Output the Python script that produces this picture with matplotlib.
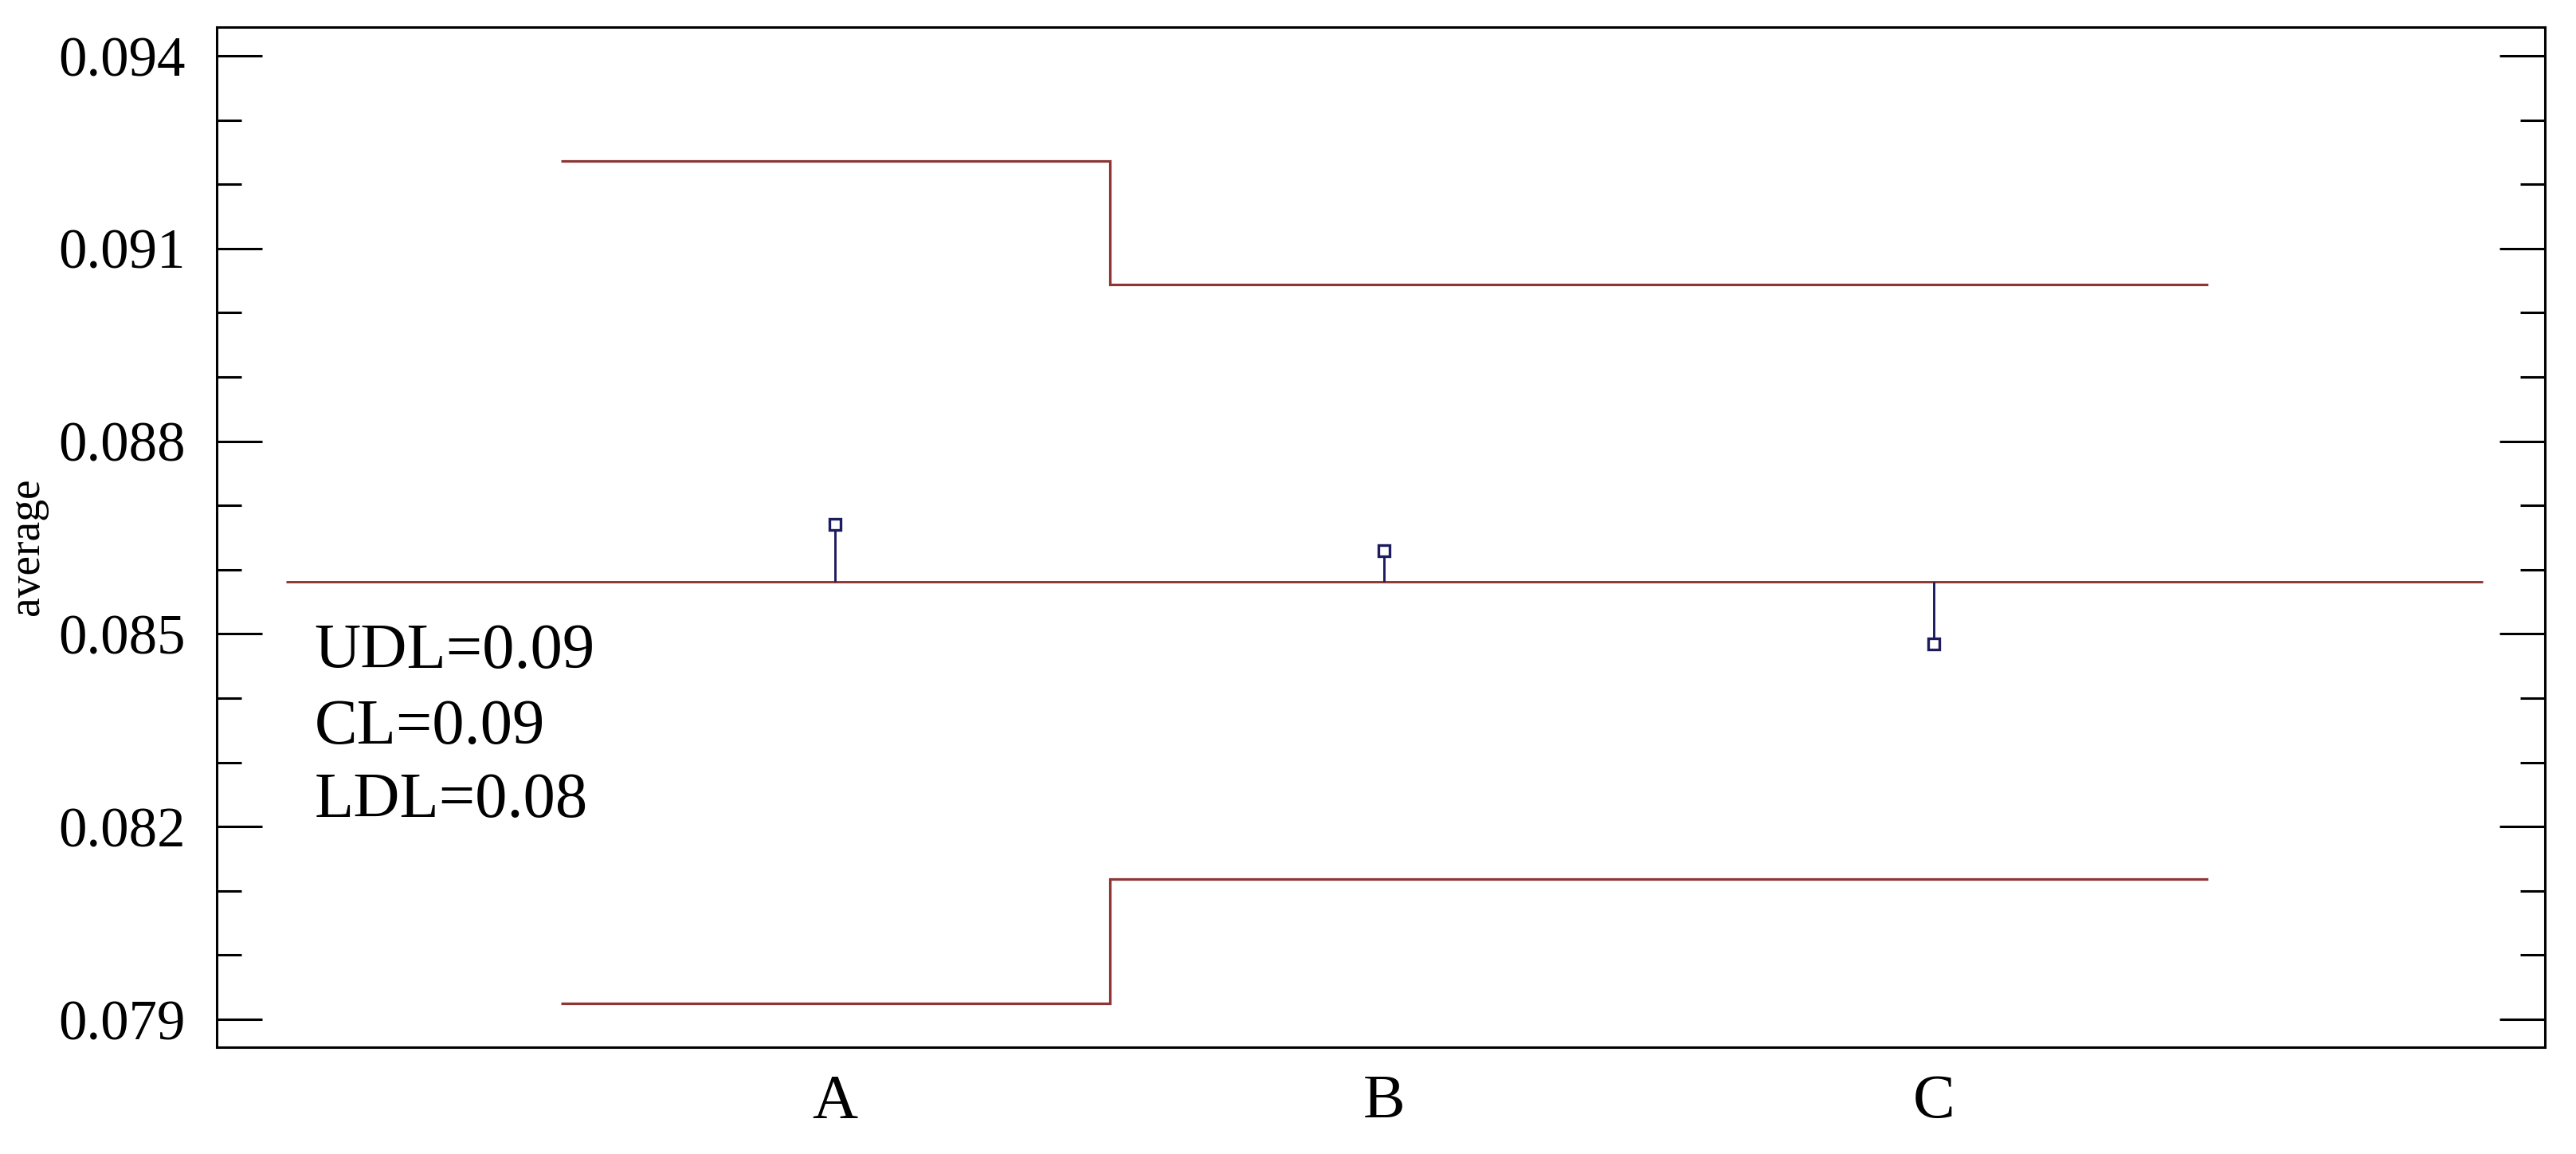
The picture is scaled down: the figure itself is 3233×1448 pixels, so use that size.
import matplotlib
matplotlib.use("Agg")
import matplotlib.pyplot as plt
from matplotlib.ticker import MultipleLocator, FixedLocator

# ---- data ----
groups = ["A", "B", "C"]
group_pos = [1, 2, 3]
means = [0.0867, 0.0863, 0.08484]
center_line = 0.08581
udl = [0.09236, 0.09044, 0.09044]
ldl = [0.07925, 0.08118, 0.08118]
limit_edges = [0.5, 1.5, 2.5, 3.5]
cl_span = [0, 4]
yticks_major = [0.079, 0.082, 0.085, 0.088, 0.091, 0.094]
ytick_labels = ["0.079", "0.082", "0.085", "0.088", "0.091", "0.094"]
summary_lines = ["UDL=0.09", "CL=0.09", "LDL=0.08"]

serif = ["Liberation Serif", "DejaVu Serif"]
plt.rcParams["font.family"] = serif

W, H, DPI = 3233, 1448, 100
fig = plt.figure(figsize=(W / DPI, H / DPI), dpi=DPI)
ax = fig.add_axes([272 / W, 1 - 1314 / H, (3194 - 272) / W, (1314 - 34) / H])

limit_color = "#8e3636"
point_color = "#1c1c5e"

ax.stairs(udl, limit_edges, baseline=None, color=limit_color, lw=2.3)
ax.stairs(ldl, limit_edges, baseline=None, color=limit_color, lw=2.3)
ax.hlines(center_line, cl_span[0], cl_span[1], color=limit_color, lw=2.1)
ax.vlines(group_pos, center_line, means, color=point_color, lw=2.1)
ax.plot(group_pos, means, ls="none", marker="s", ms=10.5, mfc="white",
        mec=point_color, mew=2.4)

ax.set_xlim(-0.126, 4.113)
ax.set_ylim(0.078566, 0.094447)

ax.yaxis.set_major_locator(FixedLocator(yticks_major))
ax.set_yticklabels(ytick_labels)
ax.yaxis.set_minor_locator(MultipleLocator(0.001))
ax.tick_params(axis="y", which="both", direction="in", left=True, right=True,
               width=2.2, labelsize=51, pad=28)
ax.tick_params(axis="y", which="major", length=41)
ax.tick_params(axis="y", which="minor", length=22)

ax.set_xticks(group_pos)
ax.set_xticklabels(groups)
ax.tick_params(axis="x", which="both", length=0, labelsize=57, pad=24)

for s in ax.spines.values():
    s.set_linewidth(2.2)
    s.set_color("black")

ax.set_ylabel("average", fontsize=40)
ax.yaxis.set_label_coords(-0.0726, 0.491)

baselines = [0.372, 0.298, 0.226]
for txt, yb in zip(summary_lines, baselines):
    ax.text(0.042, yb, txt, transform=ax.transAxes, fontsize=58,
            ha="left", va="baseline", color="black")

fig.savefig("out.png", dpi=DPI, facecolor="white")
